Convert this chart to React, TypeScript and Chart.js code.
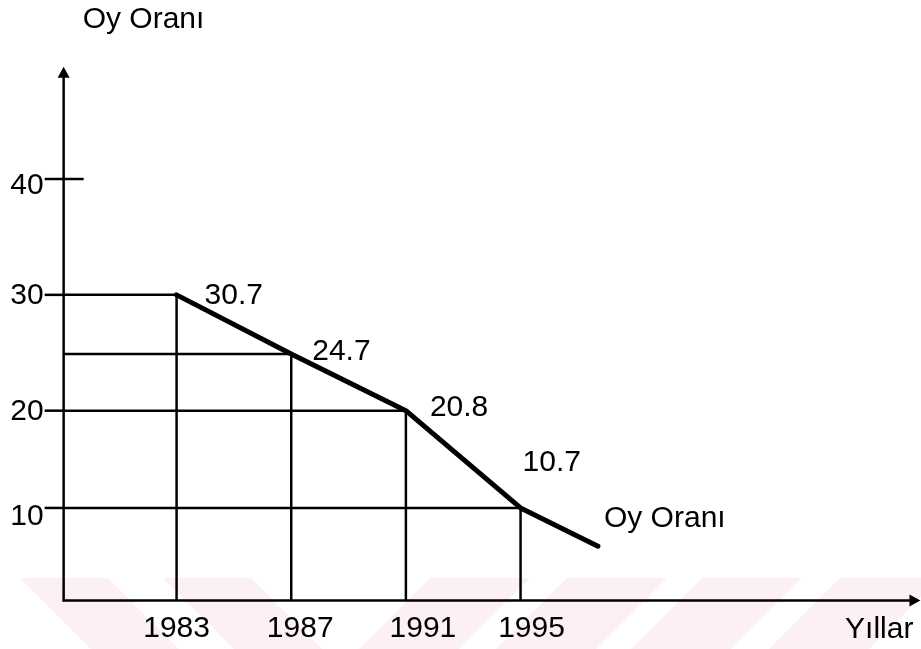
import React, { useEffect, useRef } from "react";
import { Chart, registerables } from "chart.js";

Chart.register(...registerables);

// ---- data ----
const years = [1983, 1987, 1991, 1995];
const yearLabels = ["1983", "1987", "1991", "1995"];
// where each point sits on the drawn axis
const plottedY = [30, 24.9, 20, 11.6];
// the values written next to the points
const valueLabels = ["30.7", "24.7", "20.8", "10.7"];
// the line runs on past 1995
const tailYear = 1997.7;
const tailY = 8.3;
const yTickValues = [40, 30, 20, 11.6];
const yTickLabels = ["40", "30", "20", "10"];
const seriesName = "Oy Oranı";
const yAxisTitle = "Oy Oranı";
const xAxisTitle = "Yıllar";

// axis geometry in data units
const axisOriginX = 1979.06;
const axisOriginY = 3.6;
const yAxisTop = 49.7;
const xAxisEnd = 2008.95;
const xMin = 1976.84;
const xMax = 2008.97;
const yMin = -0.58;
const yMax = 55.46;

// label offsets (px)
const xLabelDx = [0, 9, 17, 11];
const valueLabelOffsets = [
  [28, 1],
  [21, -2],
  [24, -3],
  [2, -45],
];

const FONT = '30px "Liberation Sans", Arial, sans-serif';
const INK = "#000";

const drawPlugin = {
  id: "handDrawnAxes",
  beforeDraw(chart: any) {
    const ctx = chart.ctx as CanvasRenderingContext2D;
    const { bottom } = chart.chartArea;
    ctx.save();
    ctx.fillStyle = "#fdf0f2";
    const top = bottom - 71;
    const h = bottom - top;
    // watermark stripes, leaning "\" on the left and "/" on the right
    const leftStarts = [20, 163];
    leftStarts.forEach((s) => {
      ctx.beginPath();
      ctx.moveTo(s, top);
      ctx.lineTo(s + 88, top);
      ctx.lineTo(s + 88 + h, bottom);
      ctx.lineTo(s + h, bottom);
      ctx.closePath();
      ctx.fill();
    });
    const rightStarts = [430, 567, 702, 840];
    rightStarts.forEach((s) => {
      ctx.beginPath();
      ctx.moveTo(s, top);
      ctx.lineTo(s + 100, top);
      ctx.lineTo(s + 100 - h, bottom);
      ctx.lineTo(s - h, bottom);
      ctx.closePath();
      ctx.fill();
    });
    ctx.restore();
  },
  beforeDatasetsDraw(chart: any) {
    const ctx = chart.ctx as CanvasRenderingContext2D;
    const xs = chart.scales.x;
    const ys = chart.scales.y;
    const X = (v: number) => xs.getPixelForValue(v);
    const Y = (v: number) => ys.getPixelForValue(v);
    const ax = X(axisOriginX);
    const ay = Y(axisOriginY);
    const line = (x1: number, y1: number, x2: number, y2: number) => {
      ctx.beginPath();
      ctx.moveTo(x1, y1);
      ctx.lineTo(x2, y2);
      ctx.stroke();
    };
    ctx.save();
    ctx.strokeStyle = INK;
    ctx.fillStyle = INK;
    ctx.lineWidth = 2.5;
    ctx.lineCap = "butt";

    // y axis with arrow
    const yTip = Y(yAxisTop);
    line(ax, ay + 1, ax, yTip + 8);
    ctx.beginPath();
    ctx.moveTo(ax, yTip);
    ctx.lineTo(ax - 6, yTip + 11);
    ctx.lineTo(ax + 6, yTip + 11);
    ctx.closePath();
    ctx.fill();

    // x axis with arrow
    const xTip = X(xAxisEnd);
    line(ax - 1, ay, xTip - 8, ay);
    ctx.beginPath();
    ctx.moveTo(xTip, ay);
    ctx.lineTo(xTip - 11, ay - 6);
    ctx.lineTo(xTip - 11, ay + 6);
    ctx.closePath();
    ctx.fill();

    // y ticks and labels
    ctx.font = FONT;
    ctx.textAlign = "right";
    ctx.textBaseline = "middle";
    yTickValues.forEach((v, i) => {
      const py = Y(v);
      line(ax - 19, py, i === 0 ? ax + 20 : ax, py);
      ctx.fillText(yTickLabels[i], ax - 20, py + (i === 0 ? 7 : i === 3 ? 9 : 1));
    });

    // guide lines from each point to both axes
    years.forEach((yr, i) => {
      const px = X(yr);
      const py = Y(plottedY[i]);
      line(ax, py, px, py);
      line(px, py, px, ay);
    });

    // x labels
    ctx.textAlign = "center";
    years.forEach((yr, i) => {
      ctx.fillText(yearLabels[i], X(yr) + xLabelDx[i], ay + 28);
    });

    // axis titles
    ctx.textAlign = "left";
    ctx.fillText(yAxisTitle, ax + 19, yTip - 47);
    ctx.textAlign = "right";
    ctx.fillText(xAxisTitle, xTip - 7, ay + 29);
    ctx.restore();
  },
  afterDatasetsDraw(chart: any) {
    const ctx = chart.ctx as CanvasRenderingContext2D;
    const xs = chart.scales.x;
    const ys = chart.scales.y;
    ctx.save();
    ctx.fillStyle = INK;
    ctx.font = FONT;
    ctx.textAlign = "left";
    ctx.textBaseline = "middle";
    years.forEach((yr, i) => {
      const px = xs.getPixelForValue(yr);
      const py = ys.getPixelForValue(plottedY[i]);
      const [dx, dy] = valueLabelOffsets[i];
      ctx.fillText(valueLabels[i], px + dx, py + dy);
    });
    ctx.fillText(
      seriesName,
      xs.getPixelForValue(tailYear) + 6,
      ys.getPixelForValue(tailY) - 27
    );
    ctx.restore();
  },
};

export default function App() {
  const canvasRef = useRef<HTMLCanvasElement | null>(null);

  useEffect(() => {
    document.body.style.margin = "0";
    const canvas = canvasRef.current;
    if (!canvas) return;
    const points = years.map((yr, i) => ({ x: yr, y: plottedY[i] }));
    points.push({ x: tailYear, y: tailY });
    const chart = new Chart(canvas, {
      type: "line",
      data: {
        datasets: [
          {
            label: seriesName,
            data: points,
            borderColor: INK,
            borderWidth: 5,
            pointRadius: 0,
            tension: 0,
            fill: false,
            borderJoinStyle: "round",
            borderCapStyle: "round",
          },
        ],
      },
      options: {
        responsive: false,
        animation: false,
        devicePixelRatio: 1,
        layout: { padding: 0, autoPadding: false },
        plugins: {
          legend: { display: false },
          tooltip: { enabled: false },
          title: { display: false },
        },
        scales: {
          x: { type: "linear", min: xMin, max: xMax, display: false },
          y: { type: "linear", min: yMin, max: yMax, display: false },
        },
      },
      plugins: [drawPlugin],
    });
    return () => chart.destroy();
  }, []);

  return (
    <div style={{ position: "absolute", left: 0, top: 0, width: 921, height: 649, background: "#fff" }}>
      <canvas ref={canvasRef} width={921} height={649} />
    </div>
  );
}
